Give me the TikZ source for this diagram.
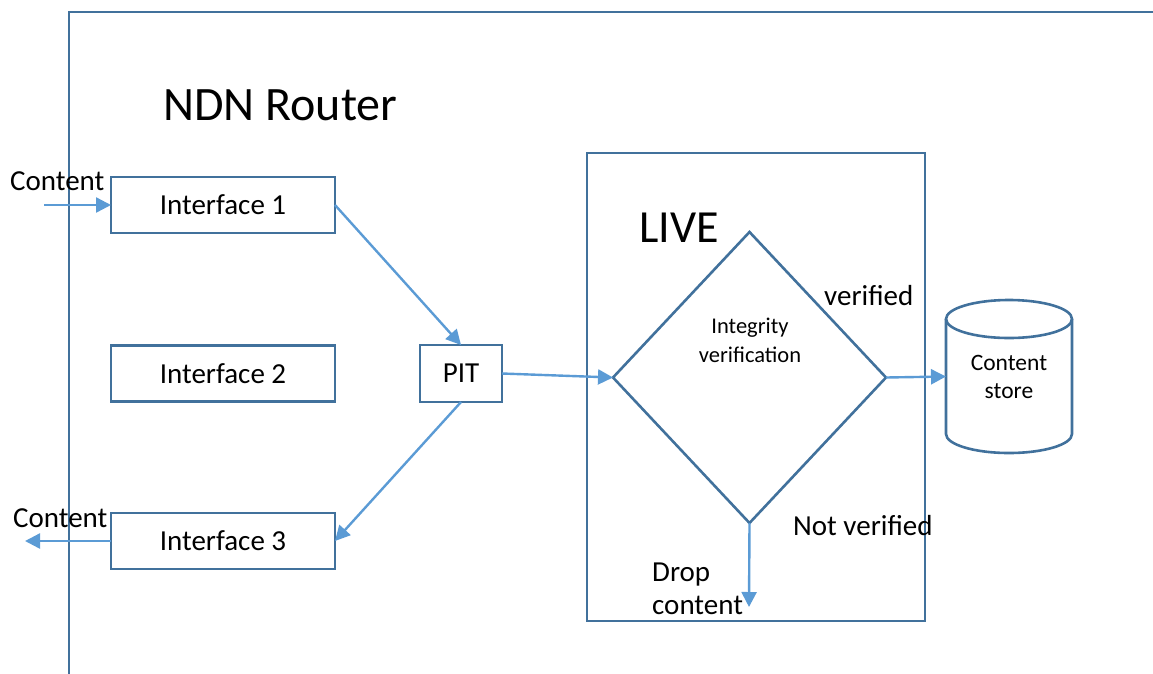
\documentclass[tikz,border=0pt]{standalone}
\usepackage{fontspec}
\setmainfont{Carlito}
\usetikzlibrary{arrows.meta,shapes.geometric}
\definecolor{frameblue}{HTML}{41719C}
\definecolor{arrowblue}{HTML}{5B9BD5}
\begin{document}
\begin{tikzpicture}[x=1pt,y=-1pt,
  box/.style={draw=frameblue,line width=2.6pt,minimum width=224pt,minimum height=56pt,inner sep=0pt,outer sep=0pt,font=\fontsize{29}{33}\selectfont},
  conn/.style={draw=arrowblue,line width=2.4pt,-{Triangle[length=15pt,width=15pt]}},
  lbl/.style={inner sep=0pt,font=\fontsize{29}{33}\selectfont,align=left},
  big/.style={inner sep=0pt,font=\fontsize{46}{50}\selectfont},
  outline/.style={draw=frameblue,line width=2.6pt}]
\useasboundingbox (0,0) rectangle (1153,673);
% router frame
\draw[frameblue,line width=2.6pt] (69,680) -- (69,12) -- (1160,12);
% boxes
\node[box] (if1) at (223,205) {Interface 1};
\node[box] (if2) at (223,373.5) {Interface 2};
\node[box] (if3) at (223,541) {Interface 3};
\node[box,minimum width=82pt,minimum height=57pt] (pit) at (461,373.5) {PIT};
\node[outline,minimum width=338pt,minimum height=468pt,inner sep=0pt,outer sep=0pt] (live) at (756,387) {};
\node[diamond,outline,minimum width=273pt,minimum height=291pt,inner sep=0pt,outer sep=0pt] (iv) at (749.5,377.5) {};
% cylinder
\draw[outline] (946,319) -- (946,434) arc[start angle=180,end angle=360,x radius=63pt,y radius=19pt] -- (1072,319);
\draw[outline] (1009,319) ellipse [x radius=63pt,y radius=19pt];
\node[minimum width=126pt,minimum height=153pt,inner sep=0pt,outer sep=0pt,align=center,font=\fontsize{23.5}{28}\selectfont] (cs) at (1009,376.5) {Content\\store};
% texts
\node[big,anchor=base west,font=\fontsize{48}{52}\selectfont] (title) at (163,120) {NDN Router};
\node[big,anchor=base west] (livet) at (639,242) {LIVE};
\node[lbl,anchor=base west] (cin) at (10,190) {Content};
\node[lbl,anchor=base west] (cout) at (13,527) {Content};
\node[lbl,anchor=base west] (ver) at (824,305) {verified};
\node[lbl,anchor=base west] (nver) at (793,535) {Not verified};
\node[lbl,anchor=base west] (drop) at (652,614) {Drop\\content};
\node[inner sep=0pt,font=\fontsize{22.5}{29}\selectfont,align=center,anchor=base] (ivt) at (750,362) {Integrity\\verification};
% connectors
\coordinate (inS) at (44,205);
\coordinate (outE) at (25,541);
\coordinate (dropE) at (749,607);
\draw[conn] (inS) -- (if1.west);
\draw[conn] (if1.east) -- (pit.north);
\draw[conn] (pit.east) -- (iv.west);
\draw[conn] (pit.south) -- (if3.east);
\draw[conn] (if3.west) -- (outE);
\draw[conn] (iv.east) -- (cs.west);
\draw[conn] (iv.south) -- (dropE);
\end{tikzpicture}
\end{document}
